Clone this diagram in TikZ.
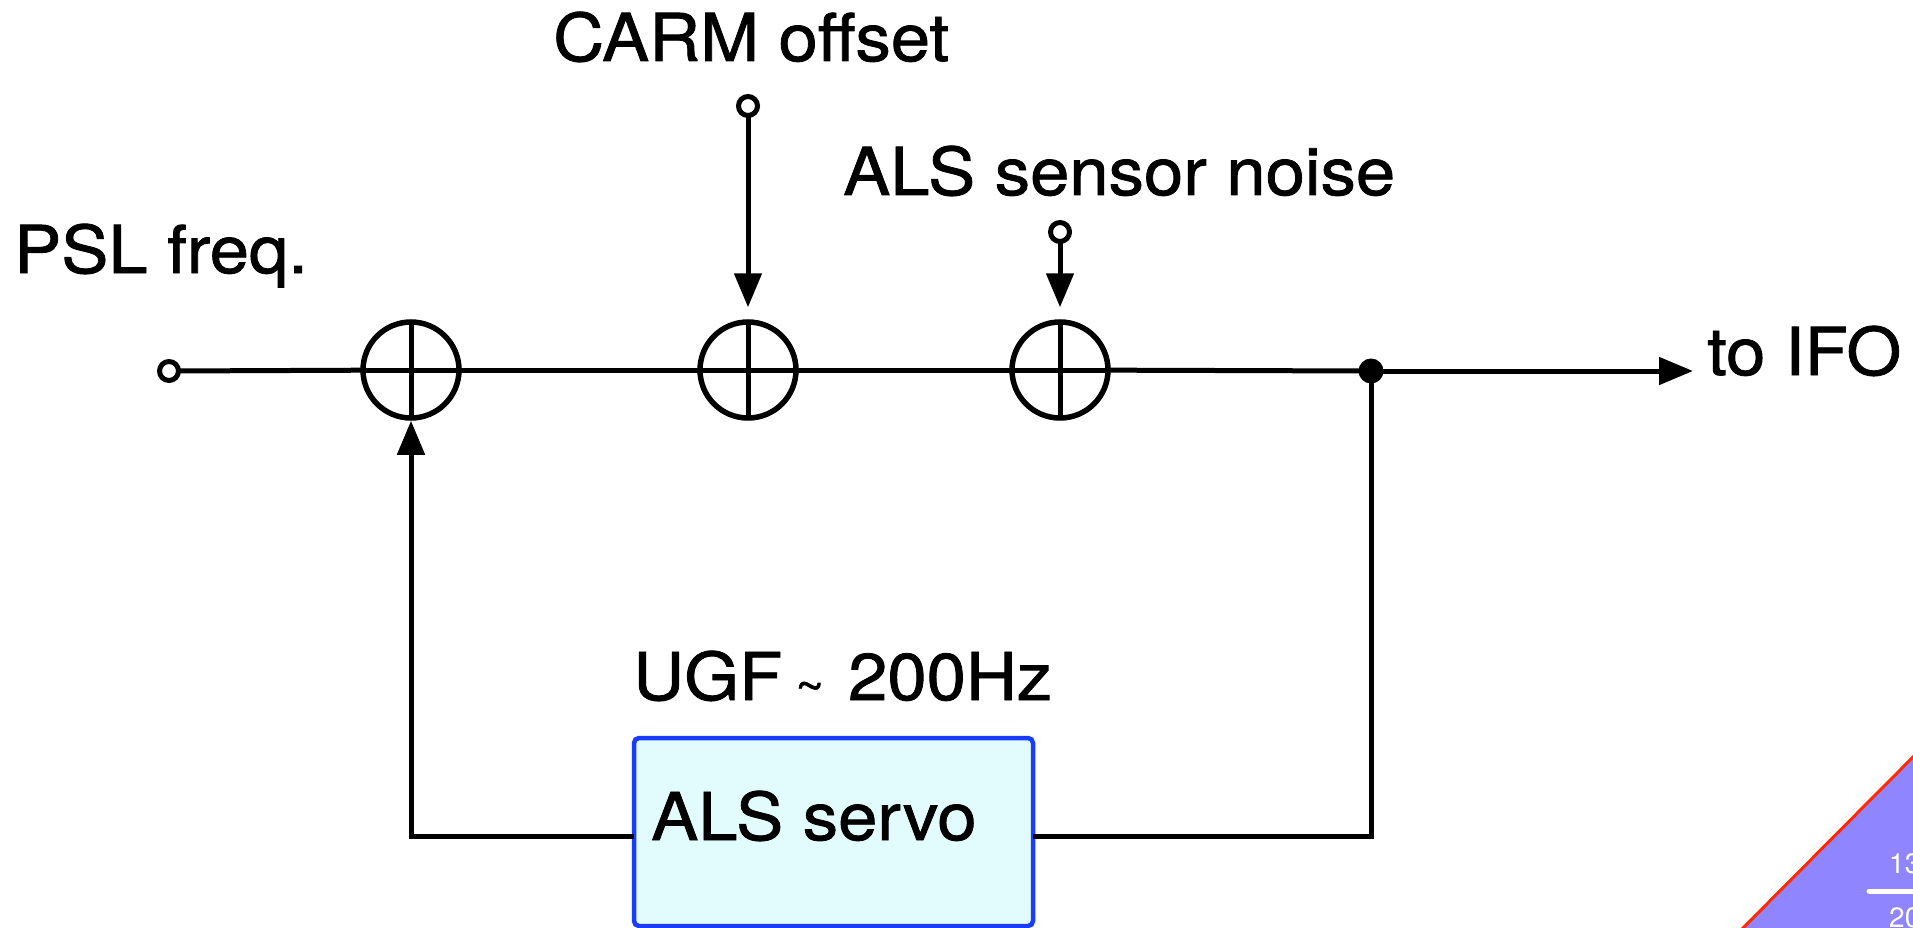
\documentclass[tikz,border=0pt]{standalone}
\usepackage{fontspec}
\usepackage{graphicx}
\setmainfont{TeX Gyre Heros}[FakeStretch=1.07, FakeBold=1.2]
\newfontfamily\badgefont{TeX Gyre Heros}
\usetikzlibrary{arrows.meta}
\definecolor{boxblue}{HTML}{1A3CFF}
\definecolor{boxfill}{HTML}{E2FCFD}
\definecolor{badge}{HTML}{8F86FF}
\definecolor{badgered}{HTML}{FF2A00}
\tikzset{
  wire/.style={line width=5pt, line cap=rect},
  arr/.style={wire, -{Triangle[length=34pt,width=27pt]}},
  sumnode/.style={circle, draw, line width=5.5pt, minimum size=96pt, inner sep=0pt,
    path picture={\draw[line width=5pt] (path picture bounding box.north) -- (path picture bounding box.south);
                  \draw[line width=5pt] (path picture bounding box.west) -- (path picture bounding box.east);}},
  term/.style={circle, draw, line width=5pt, fill=white, minimum size=19pt, inner sep=0pt},
  junct/.style={circle, fill, minimum size=25pt, inner sep=0pt},
  lbl/.style={font=\fontsize{66}{79}\selectfont, inner sep=0pt, anchor=base west},
  servobox/.style={draw=boxblue, fill=boxfill, line width=4.5pt, rounded corners=5pt,
    minimum width=399pt, minimum height=188pt, inner sep=0pt}
}
\begin{document}
\begin{tikzpicture}[x=1pt,y=-1pt]
\useasboundingbox (0,0) rectangle (1913,928);
\clip (0,0) rectangle (1913,928);

% nodes
\node[term] (psl) at (169,371) {};
\node[sumnode] (s1) at (411,370) {};
\node[sumnode] (s2) at (748,370) {};
\node[sumnode] (s3) at (1060,370) {};
\node[junct] (dot) at (1371,371) {};
\coordinate (ifo) at (1693,371);
\node[term] (carm) at (748,106) {};
\node[term] (alsn) at (1060,232) {};
\node[servobox] (servo) at (833.5,832) {};
\coordinate (fbR) at (1371,836);
\coordinate (fbL) at (411,836);

% labels
\node[lbl] (tpsl) at (14,273) {PSL freq.};
\node[lbl] (tcarm) at (553,61) {CARM offset};
\node[lbl] (tals) at (843,195) {ALS sensor noise};
\node[lbl] (tifo) at (1707,375) {to IFO};
\node[lbl] (tugf) at (633,700) {UGF\hspace{13pt}\raisebox{-2pt}{\scalebox{0.7}{\textasciitilde}}\hspace{24pt}200Hz};
\node[lbl] (tservo) at (651,840) {ALS servo};

% connectors
\draw[wire] (psl) -- (s1);
\draw[wire] (s1) -- (s2);
\draw[wire] (s2) -- (s3);
\draw[wire] (s3) -- (dot);
\draw[arr] (dot) -- (ifo);
\draw[arr, shorten >=12pt] (carm) -- (s2);
\draw[arr, shorten >=12pt] (alsn) -- (s3);
\draw[wire] (dot.center) -- (fbR) -- (servo.east |- fbR);
\draw[arr] (servo.west |- fbL) -- (fbL) -- (s1.south);

% corner badge
\fill[badge] (1743,928) -- (1913,757) -- (1920,757) -- (1920,935) -- (1743,935) -- cycle;
\draw[badgered, line width=3pt] (1740,931) -- (1916,754);
\draw[white, line width=5pt, line cap=round] (1869,891) -- (1925,891);
\node[font=\badgefont\fontsize{28}{34}\selectfont, text=white, inner sep=0pt, anchor=base west] (n13) at (1889,873) {13};
\node[font=\badgefont\fontsize{28}{34}\selectfont, text=white, inner sep=0pt, anchor=base west] (n20) at (1889,927) {20};
\end{tikzpicture}
\end{document}
